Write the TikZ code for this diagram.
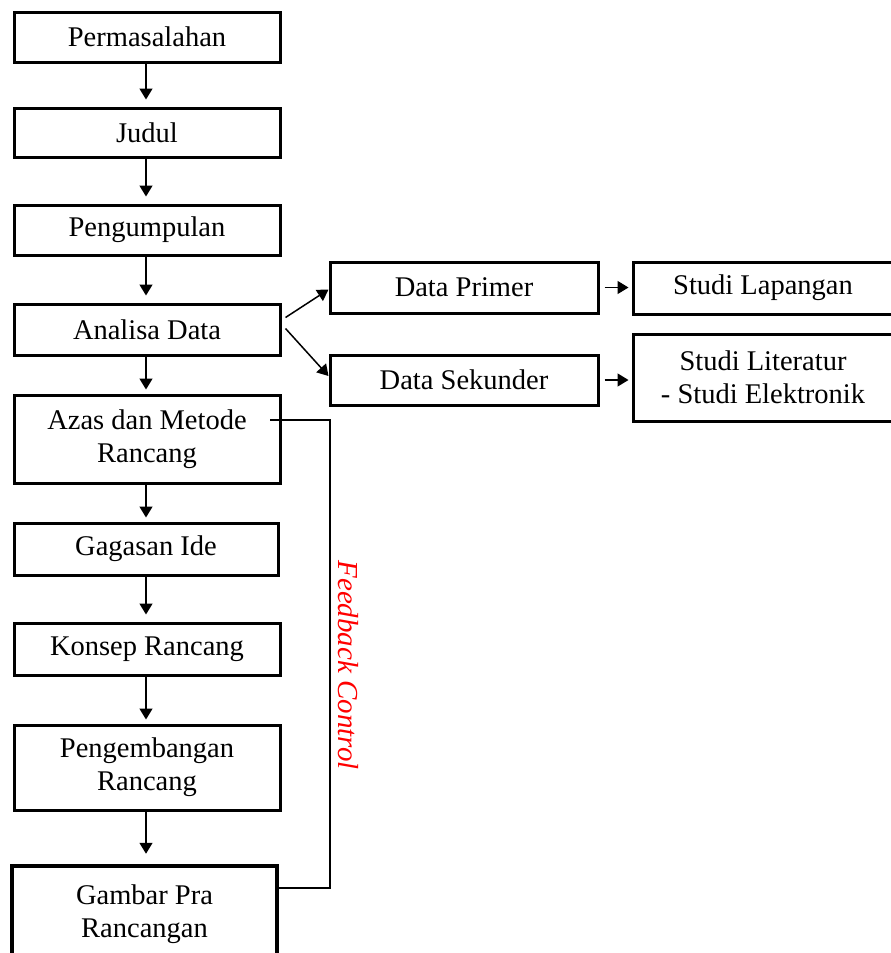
\documentclass[tikz,border=0pt]{standalone}
\usepackage{fontspec}
\setmainfont{Liberation Serif}
\usetikzlibrary{arrows.meta}
\begin{document}
\begin{tikzpicture}[x=1pt,y=-1pt,
  box/.style={draw=black,line width=3pt,rectangle,align=center,inner sep=0pt,font=\fontsize{28.5}{33}\selectfont},
  thickbox/.style={box,line width=4.5pt},
  flow/.style={line width=1.5pt,-{Triangle[width=13pt,length=11pt]},shorten >=7pt},
  side/.style={line width=1.5pt,-{Triangle[width=13pt,length=11pt]}},
  fb/.style={line width=2.8pt}]
\useasboundingbox (0,0) rectangle (891,953);
\begin{scope}
\clip (0,0) rectangle (891,953);
\node[box,minimum width=266pt,minimum height=50pt] (perm) at (147,37) {Permasalahan};
\node[box,minimum width=266pt,minimum height=49pt] (judul) at (147,132.5) {Judul};
\node[box,minimum width=266pt,minimum height=50pt] (peng) at (147,230) {Pengumpulan};
\node[box,minimum width=266pt,minimum height=51pt] (anal) at (147,329.5) {Analisa Data};
\node[box,minimum width=266pt,minimum height=88pt] (azas) at (147,439) {Azas dan Metode\\Rancang};
\node[box,minimum width=264pt,minimum height=52pt] (gag) at (146,549) {Gagasan Ide};
\node[box,minimum width=266pt,minimum height=52pt] (kons) at (147,649) {Konsep Rancang};
\node[box,minimum width=266pt,minimum height=85pt] (pengem) at (147,767.5) {Pengembangan\\Rancang};
\node[thickbox,minimum width=265pt,minimum height=96pt] (gamb) at (144.5,914) {Gambar Pra\\Rancangan};
\node[box,minimum width=268pt,minimum height=51pt] (dp) at (464,287.5) {Data Primer};
\node[box,minimum width=268pt,minimum height=50pt] (ds) at (464,380) {Data Sekunder};
\node[box,minimum width=260pt,minimum height=52pt] (sl) at (763,288) {Studi Lapangan};
\node[box,minimum width=260pt,minimum height=87pt] (slit) at (763,377.5) {Studi Literatur\\- Studi Elektronik};

\draw[flow] (perm.south -| 146,0) -- (judul.north -| 146,0);
\draw[flow] (judul.south -| 146,0) -- (peng.north -| 146,0);
\draw[flow] (peng.south -| 146,0) -- (anal.north -| 146,0);
\draw[flow,shorten >=4pt] (anal.south -| 146,0) -- (azas.north -| 146,0);
\draw[flow,shorten >=4pt] (azas.south -| 146,0) -- (gag.north -| 146,0);
\draw[flow] (gag.south -| 146,0) -- (kons.north -| 146,0);
\draw[flow,shorten >=4pt] (kons.south -| 146,0) -- (pengem.north -| 146,0);
\draw[flow,shorten >=10pt] (pengem.south -| 146,0) -- (gamb.north -| 146,0);

\draw[side] ([xshift=4pt,yshift=12pt]anal.east) -- ([yshift=-2pt]dp.west);
\draw[side] ([xshift=4pt,yshift=1pt]anal.east) -- ([yshift=4pt]ds.west);
\draw[side,shorten <=5pt,shorten >=3pt] (dp.east) -- (sl.west |- dp.east);
\draw[side,shorten <=5pt,shorten >=3pt] (ds.east) -- (slit.west |- ds.east);

\coordinate (fbs) at (270,420);
\draw[fb] (fbs) -- (330,420) -- (330,888) -- (gamb.east |- 0,888);
\node[rotate=-90,text=red,font=\fontsize{29}{33}\selectfont\itshape,anchor=center] (fbl) at (348,665) {Feedback Control};
\end{scope}
\end{tikzpicture}
\end{document}
